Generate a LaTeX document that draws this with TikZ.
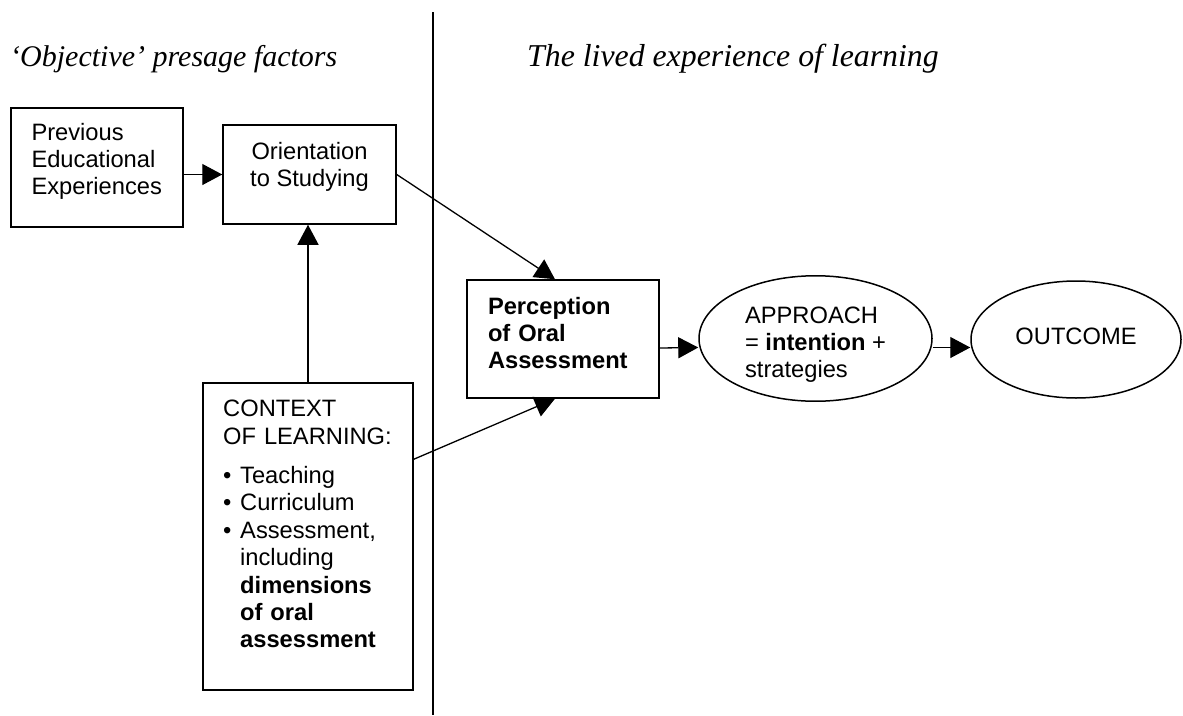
\documentclass[tikz,border=0pt]{standalone}
\usepackage{fontspec}
\setmainfont{Liberation Sans}
\newfontfamily\titlefont{Liberation Serif}
\usetikzlibrary{arrows.meta,shapes.geometric,calc}
\newcommand{\bitem}[1]{\par\noindent\makebox[17pt][l]{\textbullet}\parbox[t]{150pt}{\raggedright #1}}
\newcommand{\dn}[1]{\rule[-#1pt]{0pt}{1pt}}
\newcommand{\up}[1]{\rule{0pt}{#1pt}}
\begin{document}
\begin{tikzpicture}[x=1pt,y=-1pt,
  bodyfont/.style={font=\fontsize{23.7pt}{27.4pt}\selectfont},
  box/.style={draw, rectangle, line width=1.5pt, inner sep=0pt, bodyfont},
  ell/.style={draw, ellipse, line width=1.5pt, inner sep=0pt, bodyfont},
  arr/.style={line width=1.3pt, -{Triangle[length=20pt,width=21pt]}},
  divider/.style={line width=1.3pt},
  title/.style={inner sep=0pt, font=\titlefont\itshape\fontsize{30pt}{36pt}\selectfont}]
\useasboundingbox (0,0) rectangle (1183,715);
% titles
\node[title, anchor=base west] (tl) at (10,66) {‘Objective’ presage factors};
\node[title, anchor=base west, font=\titlefont\itshape\fontsize{31.8pt}{36pt}\selectfont] (tr) at (527,66) {The lived experience of learning};
% divider
\coordinate (dtop) at (433,12);
\coordinate (dbot) at (433,715);
\draw[divider] (dtop) -- (dbot);
% boxes
\node[box, minimum width=172pt, minimum height=119pt, text width=131pt, align=left] (prev) at (97,167.5) {Previous\\Educational\\Experiences\dn{17}};
\node[box, minimum width=173pt, minimum height=99pt, align=center] (orient) at (309.5,174.5) {Orientation\\to Studying\dn{20}};
\node[box, minimum width=210pt, minimum height=307pt] (ctx) at (308,536.5) {};
\node[inner sep=0pt, anchor=north west, text width=172pt, align=left, bodyfont] (ctxt) at (223,400) {%
\noindent CONTEXT\par\noindent OF LEARNING:\par\vspace{12pt}%
\bitem{Teaching}\bitem{Curriculum}\bitem{Assessment,\\including\\\textbf{dimensions}\\\textbf{of oral}\\\textbf{assessment}}};
\node[box, minimum width=192pt, minimum height=118pt, text width=150pt, align=left, font=\fontsize{23.7pt}{27.4pt}\selectfont\bfseries] (perc) at (563,339) {Perception\\of Oral\\Assessment\dn{12}};
\node[ell, minimum width=233pt, minimum height=113pt, align=left] (appr) at (815.5,338.5) {\up{29}APPROACH\\= \textbf{intention} +\\strategies};
\node[ell, minimum width=210pt, minimum height=117pt] (outc) at (1076,339.5) {OUTCOME\dn{6}};
% connectors
\draw[arr] (prev.east |- orient.west) -- (orient.west);
\draw[arr] (ctx.north) -- (ctx.north |- orient.south);
\draw[arr] (orient.east) -- ($(perc.north)+(-8,0)$);
\draw[arr] ($(ctx.north east)+(0,77)$) -- ($(perc.south)+(-8,0)$);
\draw[arr] ($(perc.east)+(0,9)$) -- ($(appr.west)+(0,9)$);
\draw[arr] ($(appr.east)+(0,9)$) -- ($(outc.west)+(0,8)$);
\end{tikzpicture}
\end{document}
